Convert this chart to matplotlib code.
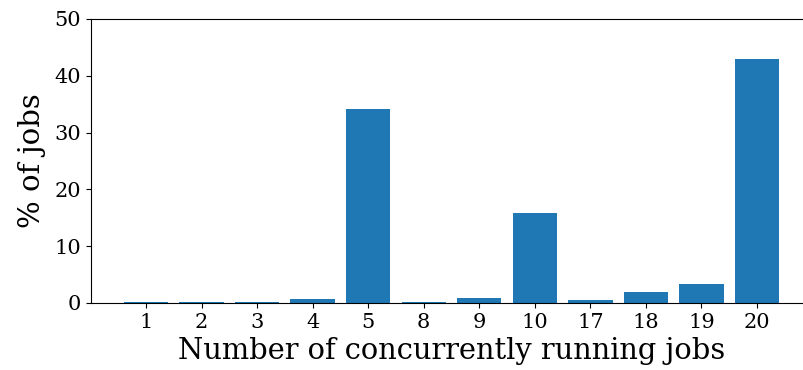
import matplotlib
matplotlib.use("Agg")
import matplotlib.pyplot as plt

# concurrency levels and share of jobs (%)
levels = ["1", "2", "3", "4", "5", "8", "9", "10", "17", "18", "19", "20"]
share = [0.2, 0.2, 0.2, 0.65, 34.1, 0.2, 0.9, 15.8, 0.5, 1.9, 3.3, 43.0]

plt.rcParams['font.family'] = 'DejaVu Serif'

fig = plt.figure(figsize=(8.04, 3.70), dpi=100)
# the original was cropped on the right, so the axes run past the edge
ax = fig.add_axes([91 / 804, 67 / 370, (812 - 91) / 804, 284 / 370])

ax.bar(range(len(levels)), share, color='#1f77b4')
ax.set_xticks(range(len(levels)))
ax.set_xticklabels(levels)
ax.set_ylim(0, 50)
ax.set_yticks([0, 10, 20, 30, 40, 50])
ax.tick_params(labelsize=15)
ax.set_xlabel("Number of concurrently running jobs", fontsize=20.8, labelpad=4)
ax.set_ylabel("% of jobs", fontsize=21, labelpad=6)

fig.savefig("out.png", dpi=100)
